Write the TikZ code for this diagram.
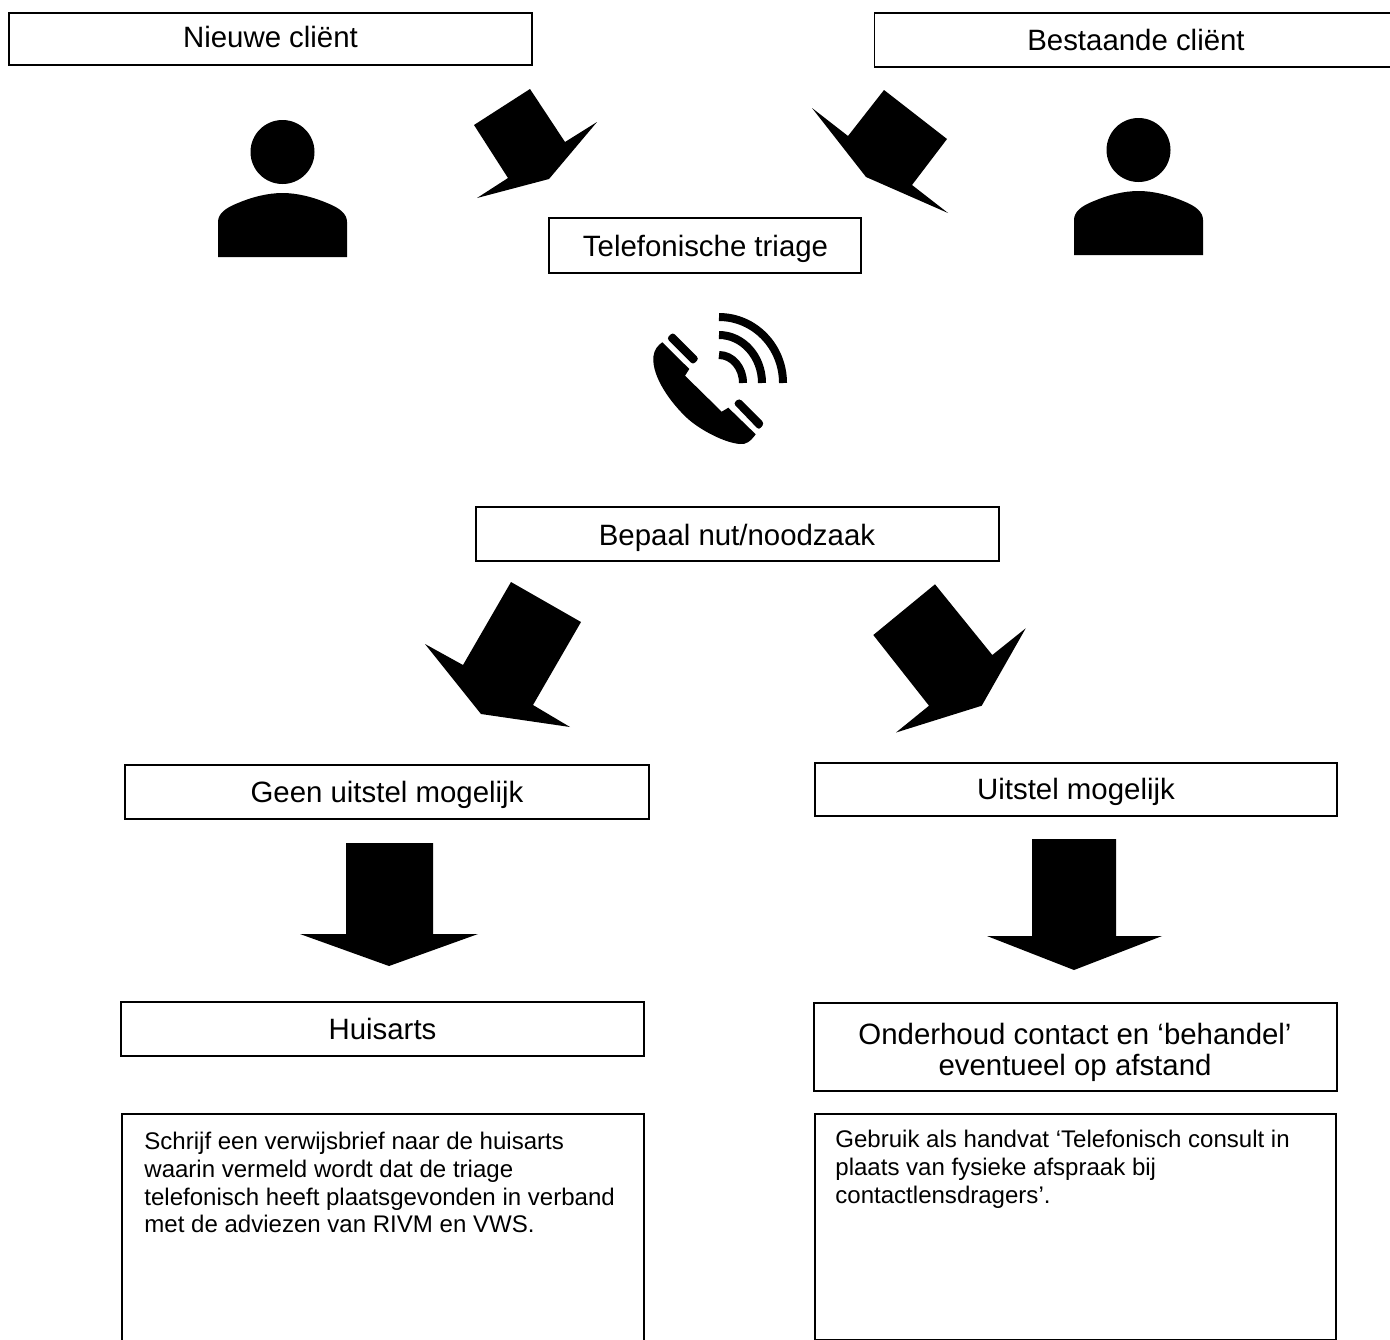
\documentclass[tikz,border=0pt]{standalone}
\usepackage{fontspec}
\setmainfont{Liberation Sans}
\tikzset{
  x=0.5pt,y=-0.5pt,
  lbl/.style={anchor=center,align=center,font=\fontsize{14.7}{15.5}\selectfont,inner sep=0pt},
  body/.style={anchor=north west,align=left,font=\fontsize{12.02}{13.85}\selectfont,inner sep=0pt},
  box/.style={draw=black,line width=0.9pt,fill=white},
  solid shape/.style={fill=black,draw=none}
}
\begin{document}
\begin{tikzpicture}
\useasboundingbox (0,0) rectangle (1390,1339);
\clip (0,0) rectangle (1390,1339);
% boxes
\draw[box] (9,13) rectangle (532,65);
\draw[box] (874.5,13) rectangle (1400,67);
\draw[box] (549,218) rectangle (861,273);
\draw[box] (476,507) rectangle (999,561);
\draw[box] (125,765) rectangle (649,819);
\draw[box] (815,763) rectangle (1337,816);
\draw[box] (121,1002) rectangle (644,1056);
\draw[box] (814,1003) rectangle (1337,1091);
\draw[box] (122,1114) rectangle (644,1360);
\draw[box] (815,1114) rectangle (1336,1339.5);
% labels
\node[lbl] (nieuwe) at (270.5,37) {Nieuwe cliënt};
\node[lbl] (bestaande) at (1136,40) {Bestaande cliënt};
\node[lbl] (triage) at (705.5,249) {Telefonische triage};
\node[lbl] (nut) at (737,538) {Bepaal nut/noodzaak};
\node[lbl] (geen) at (387,795) {Geen uitstel mogelijk};
\node[lbl] (uitstel) at (1076,792) {Uitstel mogelijk};
\node[lbl] (huisarts) at (382.5,1029) {Huisarts};
\node[lbl] (onderhoud) at (1075,1052) {Onderhoud contact en ‘behandel’\\eventueel op afstand};
\node[body] (schrijf) at (144,1132) {Schrijf een verwijsbrief naar de huisarts\\waarin vermeld wordt dat de triage\\telefonisch heeft plaatsgevonden in verband\\met de adviezen van RIVM en VWS.};
\node[body] (gebruik) at (835,1130) {Gebruik als handvat ‘Telefonisch consult in\\plaats van fysieke afspraak bij\\contactlensdragers’.};
% block arrows
\fill[solid shape] (530,89) -- (474,125) -- (508,178) -- (477,198) -- (549,179) -- (597,122) -- (565,142) -- cycle;
\fill[solid shape] (884,90) -- (947,139) -- (912,185) -- (948,213) -- (866,177) -- (812,108) -- (848,136) -- cycle;
\fill[solid shape] (511,582) -- (581,622) -- (533,705) -- (570,727) -- (481,714) -- (425,644) -- (463,665) -- cycle;
\fill[solid shape] (935,584.3) -- (873.3,635) -- (929,705.7) -- (896,732.5) -- (981.7,705.7) -- (1025.7,628.3) -- (992.3,655) -- cycle;
\fill[solid shape] (346,843) -- (433,843) -- (433,934) -- (478,934) -- (389,966) -- (300,934) -- (346,934) -- cycle;
\fill[solid shape] (1032,839) -- (1116,839) -- (1116,936) -- (1162,936) -- (1074,970) -- (987,936) -- (1032,936) -- cycle;
% persons
\foreach \dx/\dy in {0/0,856/-2}{
\begin{scope}[shift={(\dx,\dy)}]
\fill[solid shape] (282.5,152) circle[radius=16pt];
\fill[solid shape] (218,257) -- (218,222) .. controls (218,214) and (225,208) .. (238,203) .. controls (252,197) and (268,193) .. (282.5,193) .. controls (297,193) and (313,197) .. (327,203) .. controls (340,208) and (347,214) .. (347,222) -- (347,257) -- cycle;
\end{scope}}
% phone
\fill[solid shape] (662.3,342.3) -- (689.3,369) -- (685,375.7) -- (721.7,411.7) -- (728.3,407.7) -- (755.7,434.3) .. controls (750,442) and (746,444.5) .. (740,444) .. controls (725,443) and (700,430) .. (687,418) .. controls (672,404) and (652,378) .. (653.3,357) .. controls (654,350) and (658,345) .. (662.3,342.3) -- cycle;
\fill[solid shape,rounded corners=1.5pt] (666.7,338.3) -- (672.7,332.3) -- (699,358.7) -- (693,364.7) -- cycle;
\fill[solid shape,rounded corners=1.5pt] (733.3,403.3) -- (739.3,398.3) -- (764.3,423.3) -- (759,430) -- cycle;
\draw[line width=4pt] (719,317) .. controls (754.3,317) and (783,346.5) .. (783,383);
\draw[line width=4pt] (719,335) .. controls (742.7,335) and (762,356.5) .. (762,383);
\draw[line width=4pt] (719,355) .. controls (732.3,355) and (743,367.5) .. (743,383);
\end{tikzpicture}
\end{document}
